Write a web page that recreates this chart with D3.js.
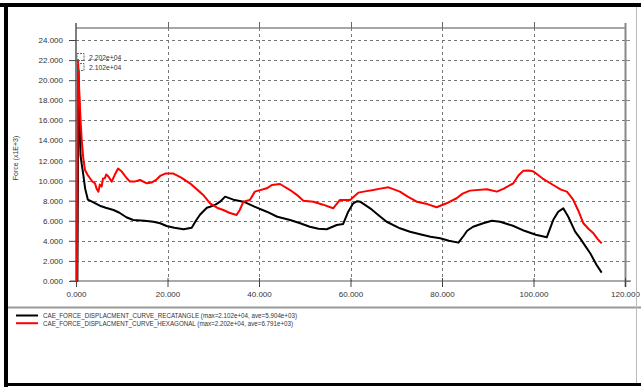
<!DOCTYPE html>
<html><head><meta charset="utf-8">
<script src="https://cdn.jsdelivr.net/npm/d3@7"></script>
<style>html,body{margin:0;padding:0;background:#fff;}svg{display:block;font-family:"Liberation Sans",Arial,sans-serif;}</style>
</head><body>
<script>
// ---- data (force in x1E+3, displacement) ----
const rectX = [0,0.3,0.55,0.8,1.0,1.2,1.5,2.0,2.6,3.5,5.2,6.5,8.2,9.5,11,12.5,15,16.9,18.4,19.8,21.5,23.5,25.3,26.2,27.1,28.6,29.3,30.5,31.5,32.6,34.4,36.6,39,41.7,44,46.8,49,51.1,53,54.8,57.0,58.4,59.5,60.6,61.5,62.1,64.3,66,67.9,70.8,73,75.2,77.5,79.6,81.5,83.6,84.7,85.5,86.8,89.0,90.9,92.7,95.5,98,100.5,102.9,104.3,105.4,106.5,107.6,109.1,110.2,111.3,112.4,113.8,114.9];
const rectY = [0,0,21.02,16,12.5,11.8,10.9,9.2,8.1,7.9,7.5,7.3,7.07,6.8,6.35,6.07,6.0,5.9,5.75,5.48,5.3,5.15,5.3,6.0,6.6,7.3,7.4,7.6,7.9,8.4,8.1,7.9,7.4,6.9,6.4,6.07,5.75,5.4,5.2,5.15,5.58,5.68,6.9,7.74,7.95,7.9,7.24,6.6,5.9,5.25,4.9,4.65,4.4,4.25,4.0,3.82,4.48,5.0,5.4,5.75,6.0,5.9,5.5,5.0,4.6,4.35,6.07,6.9,7.24,6.4,4.91,4.25,3.5,2.76,1.59,0.83];
const hexX = [0,0.2,0.45,0.7,1.0,1.25,1.6,1.97,2.5,3.06,3.6,4.15,4.5,4.9,5.2,5.6,5.9,6.3,6.6,7.1,7.5,7.8,8.5,9.2,10.0,11.1,11.8,12.8,14.0,15.5,16.5,17.6,18.5,19.5,21.3,23,24.9,26.5,27.8,29.3,31.1,32.2,33.5,35.1,35.8,36.6,38.0,39.1,41.7,42.8,44.6,46.8,48.5,49.7,51.9,54,56.2,57.7,59.9,61.7,63.5,65.0,66.5,68.3,70.8,72.5,74.5,76.5,78.8,81.0,83.2,84.5,86.1,89.8,92.0,93.5,94.9,95.6,96.7,97.8,99,100,102,104.3,106,107.3,108.0,108.7,109.8,110.9,112,113.1,114,114.9];
const hexY = [0,0,22.02,19,16,14,12.2,11.05,10.6,10.23,9.9,9.73,9.2,8.9,9.6,9.4,10.2,10.23,10.6,10.4,10.1,9.9,10.6,11.2,10.9,10.23,9.9,9.9,10.06,9.73,9.8,10.1,10.5,10.7,10.7,10.3,9.73,9.1,8.57,7.74,7.24,7.07,6.8,6.57,7.07,7.9,8.07,8.9,9.23,9.56,9.66,9.06,8.5,8.0,7.9,7.6,7.24,8.07,8.07,8.8,8.95,9.06,9.2,9.33,8.9,8.4,7.9,7.7,7.34,7.74,8.24,8.7,9.0,9.13,8.9,9.2,9.56,9.73,10.5,10.99,11.0,10.9,10.2,9.56,9.1,8.9,8.5,8.07,7.0,5.75,5.2,4.75,4.2,3.75];
const xTicks = [0,20,40,60,80,100,120];
const yTicks = [0,2,4,6,8,10,12,14,16,18,20,22,24];
const seriesNames = ["CAE_FORCE_DISPLACMENT_CURVE_RECATANGLE (max=2.102e+04, ave=5.904e+03)",
                     "CAE_FORCE_DISPLACMENT_CURVE_HEXAGONAL (max=2.202e+04, ave=6.791e+03)"];
const seriesColors = ["#000000","#ff0000"];
const peakLabels = ["2.202e+04","2.102e+04"];
const yTitle = "Force (x1E+3)";

const W = 641, H = 387;
const svg = d3.select("body").append("svg").attr("width", W).attr("height", H);
svg.append("rect").attr("width", W).attr("height", H).attr("fill", "#fff");

const x = d3.scaleLinear().domain([0,120]).range([76,625]);
const y = d3.scaleLinear().domain([0,24]).range([281,40]);
const plotTop = 28;

// grid
const grid = svg.append("g").attr("stroke","#777").attr("stroke-width",1).attr("stroke-dasharray","3,3");
yTicks.filter(d=>d>0).forEach(d=>{
  grid.append("line").attr("x1",x(0)).attr("x2",x(120)).attr("y1",Math.round(y(d))+0.5).attr("y2",Math.round(y(d))+0.5);
});
xTicks.filter(d=>d>0&&d<120).forEach(d=>{
  grid.append("line").attr("y1",plotTop).attr("y2",y(0)).attr("x1",Math.round(x(d))+0.5).attr("x2",Math.round(x(d))+0.5);
});

// frame: top and right
svg.append("line").attr("x1",x(0)).attr("x2",x(120)+1).attr("y1",plotTop).attr("y2",plotTop).attr("stroke","#888").attr("stroke-width",1.5);
svg.append("line").attr("x1",x(120)+0.5).attr("x2",x(120)+0.5).attr("y1",23).attr("y2",287).attr("stroke","#888").attr("stroke-width",2);
// top ticks
xTicks.filter(d=>d>0&&d<120).forEach(d=>{
  svg.append("line").attr("x1",Math.round(x(d))+0.5).attr("x2",Math.round(x(d))+0.5).attr("y1",22).attr("y2",plotTop).attr("stroke","#666");
});
// right ticks
yTicks.forEach(d=>{
  svg.append("line").attr("x1",x(120)+1).attr("x2",x(120)+5).attr("y1",Math.round(y(d))+0.5).attr("y2",Math.round(y(d))+0.5).attr("stroke","#888");
});

// left axis
const yAxis = svg.append("g").attr("transform",`translate(${x(0)},0)`)
  .call(d3.axisLeft(y).tickValues(yTicks).tickSize(7).tickPadding(6).tickFormat(d3.format(".3f")));
yAxis.select(".domain").attr("d",`M0,23V${y(0)+1}`).attr("stroke","#555").attr("stroke-width",1.5);
yAxis.selectAll(".tick line").attr("stroke","#444");
yAxis.selectAll("text").attr("font-size",8).attr("fill","#333").attr("font-family","Liberation Sans, Arial, sans-serif");

// bottom axis
const xAxis = svg.append("g").attr("transform",`translate(0,${y(0)})`)
  .call(d3.axisBottom(x).tickValues(xTicks).tickSize(6).tickPadding(4).tickFormat(d3.format(".3f")));
xAxis.select(".domain").attr("d",`M${x(0)-6},0H${x(120)+6}`).attr("stroke","#555").attr("stroke-width",1);
xAxis.selectAll(".tick line").attr("y1",-3).attr("stroke","#444");
xAxis.selectAll("text").attr("font-size",8).attr("fill","#333").attr("font-family","Liberation Sans, Arial, sans-serif");

// y title
svg.append("text").attr("transform",`translate(18,158) rotate(-90)`).attr("text-anchor","middle")
  .attr("font-size",7).attr("fill","#333").text(yTitle);

// curves
const line = d3.line().x(d=>x(d[0])).y(d=>y(d[1]));
const rectData = rectX.map((v,i)=>[v,rectY[i]]);
const hexData = hexX.map((v,i)=>[v,hexY[i]]);
svg.append("path").datum(rectData).attr("d",line).attr("fill","none").attr("stroke",seriesColors[0]).attr("stroke-width",2).attr("stroke-linejoin","round");
svg.append("path").datum(hexData).attr("d",line).attr("fill","none").attr("stroke",seriesColors[1]).attr("stroke-width",2).attr("stroke-linejoin","round");

// peak annotations
peakLabels.forEach((t,i)=>{
  const cy = 57.5 + i*10;
  svg.append("rect").attr("x",77).attr("y",cy-4).attr("width",7).attr("height",7)
    .attr("fill","none").attr("stroke","#666").attr("stroke-width",1).attr("stroke-dasharray","2,1");
  svg.append("text").attr("x",89).attr("y",cy+2.5).attr("font-size",6.8).attr("fill","#333").text(t);
});

// separator and border
svg.append("line").attr("x1",7).attr("x2",W).attr("y1",307.5).attr("y2",307.5).attr("stroke","#999").attr("stroke-width",2);
svg.append("line").attr("x1",636.5).attr("x2",636.5).attr("y1",6).attr("y2",383).attr("stroke","#bbb").attr("stroke-width",1);
svg.append("line").attr("x1",0).attr("x2",W).attr("y1",5).attr("y2",5).attr("stroke","#000").attr("stroke-width",4);
svg.append("line").attr("x1",6).attr("x2",6).attr("y1",3).attr("y2",387).attr("stroke","#000").attr("stroke-width",4);
svg.append("line").attr("x1",4).attr("x2",W).attr("y1",384.5).attr("y2",384.5).attr("stroke","#000").attr("stroke-width",3);

// legend
const legW = [254, 250];
seriesNames.forEach((n,i)=>{
  const ly = 315.5 + i*7.7;
  svg.append("line").attr("x1",16).attr("x2",38).attr("y1",ly).attr("y2",ly).attr("stroke",seriesColors[i]).attr("stroke-width",2);
  svg.append("text").attr("x",43).attr("y",ly+2.5).attr("font-size",7).attr("fill","#333")
    .attr("textLength",legW[i]).attr("lengthAdjust","spacingAndGlyphs").text(n);
});
</script>
</body></html>
